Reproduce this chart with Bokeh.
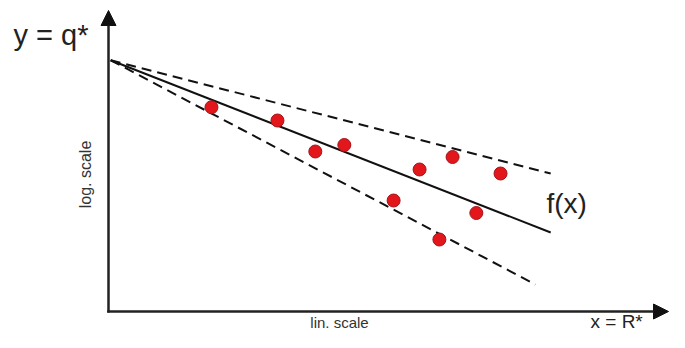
import math
from bokeh.plotting import figure
from bokeh.models import Range1d, Arrow, NormalHead, Label
from bokeh.embed import file_html
from bokeh.resources import INLINE

# observed data points (R*, log q*)
pt_x = [2.34, 3.84, 4.70, 5.36, 6.48, 7.07, 7.82, 8.91, 8.36, 7.52]
pt_y = [8.17, 7.64, 6.40, 6.66, 4.44, 5.68, 6.18, 5.52, 3.94, 2.88]

# fitted line f(x) and its upper/lower envelopes
fit_x = [0.05, 10.05]
fit_y = [10.05, 3.16]
upper_x = [0.05, 10.05]
upper_y = [10.05, 5.52]
lower_x = [0.05, 9.70]
lower_y = [10.05, 1.08]

PX_X = 44.0
PX_Y = 25.0
OX, OY = 108, 311
W, H = 669, 332

p = figure(width=W, height=H, output_backend="svg", toolbar_location=None,
           x_axis_type=None, y_axis_type=None, min_border=0,
           x_range=Range1d((0 - OX) / PX_X, (W - OX) / PX_X),
           y_range=Range1d((OY - H) / PX_Y, (OY - 0) / PX_Y))
p.outline_line_color = None
p.grid.visible = False
p.background_fill_color = "white"
p.border_fill_color = "white"

# axes with arrows
p.add_layout(Arrow(end=NormalHead(size=15, fill_color="#111", line_color="#111"),
                   x_start=0, y_start=-0.04, x_end=0, y_end=(OY - 10) / PX_Y,
                   line_width=2.5, line_color="#222"))
p.add_layout(Arrow(end=NormalHead(size=15, fill_color="#111", line_color="#111"),
                   x_start=-0.03, y_start=0, x_end=(668 - OX) / PX_X, y_end=0,
                   line_width=2.5, line_color="#222"))

p.line(upper_x, upper_y, line_color="#111", line_width=2, line_dash="10 6")
p.line(lower_x, lower_y, line_color="#111", line_width=2, line_dash="10 6")
p.line(fit_x, fit_y, line_color="#111", line_width=2)

p.scatter(pt_x, pt_y, size=13, fill_color="#e3161b", line_color="#a3141a", line_width=1)

font = "Liberation Sans"
p.add_layout(Label(x=(13 - OX) / PX_X, y=(OY - 34) / PX_Y, text="y = q*",
                   text_font=font, text_font_size="29px", text_color="#222",
                   text_align="left", text_baseline="alphabetic"))
p.add_layout(Label(x=(590 - OX) / PX_X, y=(OY - 321) / PX_Y, text="x = R*",
                   text_font=font, text_font_size="19px", text_color="#222",
                   text_align="left", text_baseline="alphabetic"))
p.add_layout(Label(x=(546 - OX) / PX_X, y=(OY - 203) / PX_Y, text="f(x)",
                   text_font=font, text_font_size="28px", text_color="#222",
                   text_align="left", text_baseline="alphabetic"))
p.add_layout(Label(x=(339 - OX) / PX_X, y=(OY - 321.5) / PX_Y, text="lin. scale",
                   text_font=font, text_font_size="15px", text_color="#333",
                   text_align="center", text_baseline="alphabetic"))
p.add_layout(Label(x=(85 - OX) / PX_X, y=(OY - 174) / PX_Y, text="log. scale",
                   text_font=font, text_font_size="16px", text_color="#333",
                   text_align="center", text_baseline="middle", angle=math.pi / 2))

open("out.html", "w").write(file_html(p, INLINE))
